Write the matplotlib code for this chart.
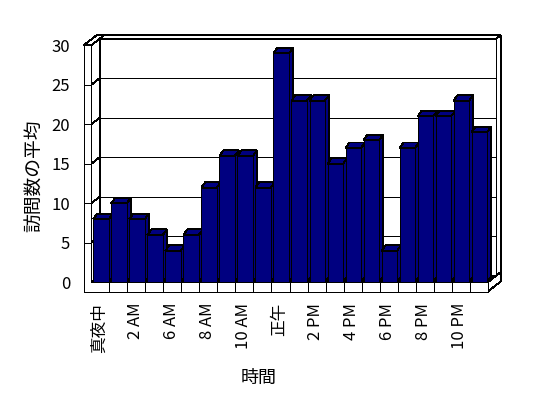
import matplotlib
matplotlib.use('Agg')
import matplotlib.pyplot as plt
from matplotlib.patches import Polygon
from matplotlib.lines import Line2D
from matplotlib.transforms import IdentityTransform
import numpy as np

plt.rcParams['font.family'] = ['Noto Sans CJK JP', 'DejaVu Sans']

categories = ['真夜中', '1 AM', '2 AM', '3 AM', '6 AM', '7 AM', '8 AM', '9 AM',
              '10 AM', '11 AM', '正午', '1 PM', '2 PM', '3 PM', '4 PM', '5 PM',
              '6 PM', '7 PM', '8 PM', '9 PM', '10 PM', '11 PM']
values = [8, 10, 8, 6, 4, 6, 12, 16, 16, 12, 29, 23, 23, 15, 17, 18, 4, 17, 21, 21, 23, 19]
y_ticks = [0, 5, 10, 15, 20, 25, 30]
x_title = '時間'
y_title = '訪問数の平均'

W, H = 548, 398
fig = plt.figure(figsize=(W / 100, H / 100), dpi=100)
L, R, T, B = 91.3, 487.7, 45.3, 282.3
ax = fig.add_axes([L / W, (H - B) / H, (R - L) / W, (B - T) / H])
n = len(categories)
ymax = y_ticks[-1]
ax.set_xlim(0, n)
ax.set_ylim(0, ymax)
for s in ax.spines.values():
    s.set_visible(False)
ax.patch.set_visible(False)

WALL = np.array([8.4, 6.6])      # depth of plot area (px)
W2 = WALL + np.array([4.5, 3.5])  # back wall thickness
BAR = np.array([4.0, 5.5])       # bar depth
LW_T = 7.6                       # left wall thickness (px)
FL_T = 9.4                       # floor thickness (px)
NAVY = '#000080'
LWD = 0.65


def P(x, y, d=(0, 0)):
    return ax.transData.transform((x, y)) + np.asarray(d, dtype=float)


def poly(pts, fc='white', z=1):
    ax.add_patch(Polygon(np.array(pts), closed=True, facecolor=fc, edgecolor='black',
                         lw=LWD, transform=IdentityTransform(), clip_on=False,
                         zorder=z, antialiased=False, joinstyle='miter'))


def line(p1, p2, z=1.5):
    ax.add_line(Line2D([p1[0], p2[0]], [p1[1], p2[1]], transform=IdentityTransform(),
                       color='black', lw=LWD, clip_on=False, zorder=z, antialiased=False))


dxL = np.array([-LW_T, 0])
dyF = np.array([0, -FL_T])

# back wall slab (top and right faces)
poly([P(0, ymax, WALL), P(n, ymax, WALL), P(n, ymax, W2), P(0, ymax, W2)], z=1)
poly([P(n, 0, WALL), P(n, ymax, WALL), P(n, ymax, W2), P(n, 0, W2)], z=1)
# back plane
poly([P(0, 0, WALL), P(n, 0, WALL), P(n, ymax, WALL), P(0, ymax, WALL)], z=1.1)
for v in y_ticks:
    line(P(0, v, WALL), P(n, v, WALL), z=1.2)

# floor top
poly([P(0, 0), P(n, 0), P(n, 0, WALL), P(0, 0, WALL)], z=1.3)
# left wall inner surface
poly([P(0, 0), P(0, 0, WALL), P(0, ymax, WALL), P(0, ymax)], z=1.4)
for v in y_ticks:
    line(P(0, v), P(0, v, WALL), z=1.45)
# left wall top
poly([P(0, ymax) + dxL, P(0, ymax), P(0, ymax, W2), P(0, ymax, W2) + dxL], z=1.5)
# floor right face
poly([P(n, 0), P(n, 0, W2), P(n, 0, W2) + dyF, P(n, 0) + dyF], z=1.5)
# left wall + floor front faces (L shape)
poly([P(0, ymax) + dxL, P(0, ymax), P(0, 0), P(n, 0), P(n, 0) + dyF, P(0, 0) + dxL + dyF], z=1.6)
for v in y_ticks[1:]:
    line(P(0, v) + dxL, P(0, v), z=1.65)
for i in range(1, n):
    line(P(i, 0), P(i, 0) + dyF, z=1.65)

# bars
bw, boff = 0.86, 0.11
for i, v in enumerate(values):
    z = 2 + i * 0.01
    x0, x1 = i + boff, i + boff + bw
    poly([P(x0, v), P(x1, v), P(x1, v, BAR), P(x0, v, BAR)], fc=NAVY, z=z)
    poly([P(x1, 0), P(x1, v), P(x1, v, BAR), P(x1, 0, BAR)], fc=NAVY, z=z)
    poly([P(x0, 0), P(x1, 0), P(x1, v), P(x0, v)], fc=NAVY, z=z + 0.005)

# ticks & labels
ax.set_yticks(y_ticks)
ax.set_yticklabels([str(t) for t in y_ticks], fontsize=12)
ax.set_xticks([i + 0.45 for i in range(0, n, 2)])
ax.set_xticklabels(categories[::2], rotation=90, fontsize=12)
ax.tick_params(axis='y', length=0, pad=15.3)
ax.tick_params(axis='x', length=0, pad=14.7)

fig.text(35 / W, (H - 176) / H, y_title, rotation=90, ha='center', va='center', fontsize=13.5)
fig.text(259 / W, (H - 378) / H, x_title, ha='center', va='center', fontsize=13)

fig.savefig('out.png', dpi=100)
